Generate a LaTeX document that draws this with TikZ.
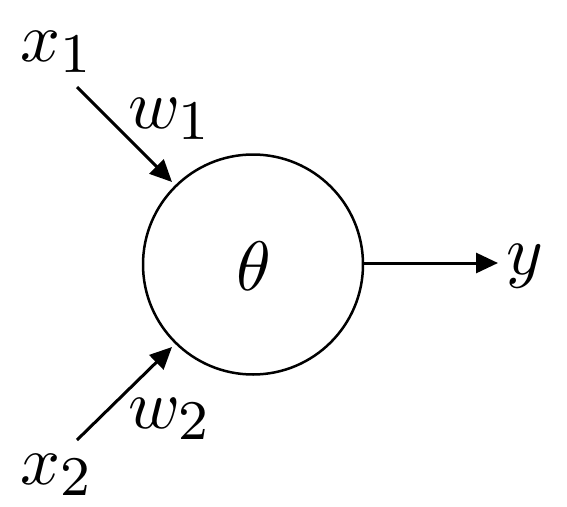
\documentclass[tikz,border=0pt]{standalone}
\usepackage{graphicx}
\usetikzlibrary{arrows.meta}
\DeclareMathSizes{10}{10}{8}{6}
\newcommand{\bigmath}[1]{\scalebox{7}{$#1$}}
\begin{document}
\begin{tikzpicture}[x=1pt,y=-1pt,
  lbl/.style={inner sep=0pt,outer sep=0pt,anchor=base west},
  conn/.style={line width=3pt,-{Triangle[length=22pt,width=20pt]}},
  neuron/.style={circle,draw,line width=2.5pt,minimum size=220pt,inner sep=0pt}]
\useasboundingbox (0,0) rectangle (567,506);
\node[neuron] (n) at (253,264.5) {};
\node[inner sep=0pt,anchor=base] (th) at (254,290) {\bigmath{\theta}};
\node[lbl] (x1) at (20,61) {\bigmath{x_1}};
\node[lbl] (x2) at (20,484) {\bigmath{x_2}};
\node[lbl] (w1) at (128,128) {\bigmath{w_1}};
\node[lbl] (w2) at (128,428) {\bigmath{w_2}};
\node[lbl] (y) at (506,274) {\bigmath{y}};
\coordinate (s1) at (77,87);
\coordinate (t1) at (172,182);
\coordinate (s2) at (77,440);
\coordinate (t2) at (172,347);
\coordinate (ty) at (498,263);
\draw[conn] (s1) -- (t1);
\draw[conn] (s2) -- (t2);
\draw[conn] (n.east |- ty) -- (ty);
\end{tikzpicture}
\end{document}
